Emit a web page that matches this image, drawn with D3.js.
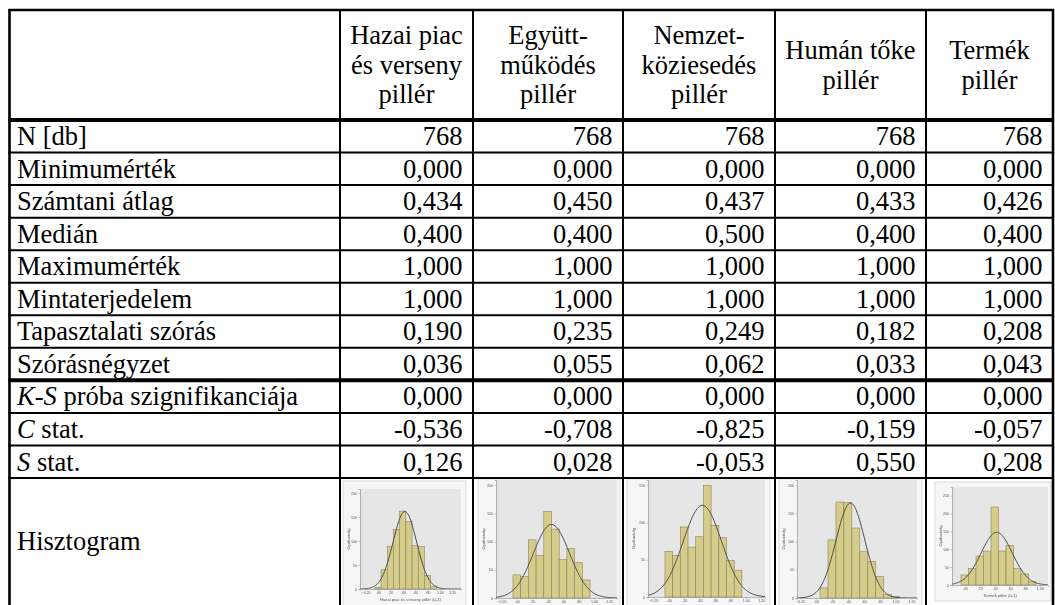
<!DOCTYPE html>
<html>
<head>
<meta charset="utf-8">
<script src="https://cdn.jsdelivr.net/npm/d3@7"></script>
<style>
  html, body { margin: 0; padding: 0; background: #fff; }
  svg { display: block; }
  .tbl text { font-family: "Liberation Serif", "Times New Roman", "DejaVu Serif", serif; }
  .hist text { font-family: "Liberation Sans", Arial, sans-serif; }
</style>
</head>
<body>
<svg id="chart" width="1055" height="605"></svg>
<script>
// ---------- data ----------
const headerLines = [
  ["Hazai piac", "és verseny", "pillér"],
  ["Együtt-", "működés", "pillér"],
  ["Nemzet-", "köziesedés", "pillér"],
  ["Humán tőke", "pillér"],
  ["Termék", "pillér"]
];
const rowLabels = ["N [db]", "Minimumérték", "Számtani átlag", "Medián", "Maximumérték",
  "Mintaterjedelem", "Tapasztalati szórás", "Szórásnégyzet", "próba szignifikanciája",
  "stat.", "stat.", "Hisztogram"];
const rowItalic = ["", "", "", "", "", "", "", "", "K-S", "C", "S", ""];

const statN      = [768, 768, 768, 768, 768];
const statMin    = [0.000, 0.000, 0.000, 0.000, 0.000];
const statMean   = [0.434, 0.450, 0.437, 0.433, 0.426];
const statMedian = [0.400, 0.400, 0.500, 0.400, 0.400];
const statMax    = [1.000, 1.000, 1.000, 1.000, 1.000];
const statRange  = [1.000, 1.000, 1.000, 1.000, 1.000];
const statSD     = [0.190, 0.235, 0.249, 0.182, 0.208];
const statVar    = [0.036, 0.055, 0.062, 0.033, 0.043];
const statKS     = [0.000, 0.000, 0.000, 0.000, 0.000];
const statC      = [-0.536, -0.708, -0.825, -0.159, -0.057];
const statS      = [0.126, 0.028, -0.053, 0.550, 0.208];

// histogram bin counts, bins centred on 0, 0.1, 0.2, ...
const histHazai   = [3, 40, 88, 124, 162, 140, 90, 88, 28, 5];
const histEgyutt  = [41, 38, 103, 75, 153, 122, 68, 88, 63, 32];
const histNemzet  = [61, 56, 94, 67, 81, 150, 96, 80, 49, 36];
const histHuman   = [0, 18, 103, 170, 169, 124, 82, 65, 38, 6, 3];
const histTermek  = [28, 46, 81, 95, 218, 95, 111, 46, 31, 9];
const histBinWidth = 0.1;
const histXTitles = ["Hazai piac és verseny pillér (0-1)", "", "", "", "Termék pillér (0-1)"];

// ---------- layout ----------
const svg = d3.select("#chart");
const colEdges = [9.5, 340, 473, 623, 775, 926, 1053];
const headerTop = 10, headerBottom = 120, histRowTop = 478, tableBottom = 640;
const fontSize = 26.5;

const huLocale = d3.formatLocale({ decimal: ",", thousands: " ", grouping: [3], currency: ["", ""], minus: "-" });
const fmt3 = huLocale.format(".3f");
const fmtInt = huLocale.format("d");

const statRows = [
  { vals: statN, f: fmtInt }, { vals: statMin, f: fmt3 }, { vals: statMean, f: fmt3 },
  { vals: statMedian, f: fmt3 }, { vals: statMax, f: fmt3 }, { vals: statRange, f: fmt3 },
  { vals: statSD, f: fmt3 }, { vals: statVar, f: fmt3 }, { vals: statKS, f: fmt3 },
  { vals: statC, f: fmt3 }, { vals: statS, f: fmt3 }
];

const rowY = d3.scaleBand().domain(d3.range(statRows.length)).range([headerBottom, histRowTop]);
const colX = i => [colEdges[i + 1], colEdges[i + 2]];

const defs = svg.append("defs");
defs.append("filter").attr("id", "soft").attr("x", "-5%").attr("y", "-5%").attr("width", "110%").attr("height", "110%")
  .append("feGaussianBlur").attr("stdDeviation", 0.45);

// ---------- histograms ----------
const histLayouts = [
  { frame: [343, 481, 123, 130], plot: { l: 360, r: 461, t: 489, b: 589 }, xDomain: [-0.29, 1.34], yMax: 208, yStep: 50, yTitleX: 350 },
  { frame: [478, 479, 142, 135], plot: { l: 496, r: 617, t: 480, b: 598 }, xDomain: [-0.27, 1.30], yMax: 209, yStep: 50, yTitleX: 485 },
  { frame: [627, 479, 143, 135], plot: { l: 648, r: 765, t: 480, b: 597 }, xDomain: [-0.27, 1.25], yMax: 157, yStep: 50, yTitleX: 635 },
  { frame: [779, 479, 143, 135], plot: { l: 797, r: 917, t: 480, b: 598 }, xDomain: [-0.24, 1.27], yMax: 209, yStep: 50, yTitleX: 785 },
  { frame: [935, 482, 116, 119], plot: { l: 952, r: 1048, t: 487, b: 585 }, xDomain: [-0.17, 1.11], yMax: 274, yStep: 50, yTitleX: 942 }
];
const histCounts = [histHazai, histEgyutt, histNemzet, histHuman, histTermek];
const tickFmt = d => d3.format(".2f")(d).replace(/^(-?)0\./, "$1.");

histLayouts.forEach((L, k) => {
  const g = svg.append("g").attr("class", "hist").attr("filter", "url(#soft)");
  const p = L.plot;
  const x = d3.scaleLinear().domain(L.xDomain).range([p.l, p.r]);
  const y = d3.scaleLinear().domain([0, L.yMax]).range([p.b, p.t]);
  const clipId = "clip" + k;
  defs.append("clipPath").attr("id", clipId).append("rect")
    .attr("x", p.l).attr("y", p.t).attr("width", p.r - p.l).attr("height", p.b - p.t);

  g.append("rect").attr("x", L.frame[0]).attr("y", L.frame[1]).attr("width", L.frame[2]).attr("height", L.frame[3])
    .attr("fill", "#f6f6f6").attr("stroke", "#d4d4d4").attr("stroke-width", 0.8);
  g.append("rect").attr("x", p.l).attr("y", p.t).attr("width", p.r - p.l).attr("height", p.b - p.t)
    .attr("fill", "#e6e6e6");

  const counts = histCounts[k];
  g.append("g").selectAll("rect").data(counts).join("rect")
    .attr("x", (d, i) => x(i * histBinWidth - histBinWidth / 2))
    .attr("width", (d, i) => x(i * histBinWidth + histBinWidth / 2) - x(i * histBinWidth - histBinWidth / 2))
    .attr("y", d => y(d))
    .attr("height", d => y(0) - y(d))
    .attr("fill", "#d4cc88").attr("stroke", "#8a8562").attr("stroke-width", 0.6);

  // fitted normal curve from the column's mean and standard deviation
  const m = statMean[k], s = statSD[k], n = statN[k];
  const dens = v => n * histBinWidth / (s * Math.sqrt(2 * Math.PI)) * Math.exp(-0.5 * ((v - m) / s) ** 2);
  const xs = d3.range(120).map(i => L.xDomain[0] + (L.xDomain[1] - L.xDomain[0]) * i / 119);
  g.append("path").datum(xs).attr("clip-path", `url(#${clipId})`)
    .attr("d", d3.line().x(v => x(v)).y(v => y(dens(v))).curve(d3.curveBasis))
    .attr("fill", "none").attr("stroke", "#4d4d4d").attr("stroke-width", 1);

  const ya = d3.axisLeft(y).tickValues(d3.range(0, L.yMax, L.yStep)).tickSize(1.5).tickPadding(1.5).tickFormat(d3.format("d"));
  const xa = d3.axisBottom(x).tickValues(d3.range(-0.2, 1.21, 0.2).filter(v => v >= L.xDomain[0] && v <= L.xDomain[1]))
    .tickSize(1.5).tickPadding(1).tickFormat(tickFmt);
  const ga = g.append("g").attr("transform", `translate(${p.l},0)`).call(ya);
  const gb = g.append("g").attr("transform", `translate(0,${p.b})`).call(xa);
  [ga, gb].forEach(a => {
    a.attr("font-family", null);
    a.select(".domain").attr("stroke", "#888").attr("stroke-width", 0.6);
    a.selectAll(".tick line").attr("stroke", "#888").attr("stroke-width", 0.5);
    a.selectAll("text").attr("font-size", 3.6).attr("fill", "#555");
  });

  g.append("text").attr("transform", `translate(${L.yTitleX},${(p.t + p.b) / 2}) rotate(-90)`)
    .attr("text-anchor", "middle").attr("font-size", 4.2).attr("fill", "#555").text("Gyakoriság");
  if (histXTitles[k]) {
    g.append("text").attr("x", (p.l + p.r) / 2).attr("y", p.b + 12)
      .attr("text-anchor", "middle").attr("font-size", 4.2).attr("fill", "#555").text(histXTitles[k]);
  }
});

// ---------- table text ----------
const T = svg.append("g").attr("class", "tbl").attr("font-size", fontSize).attr("fill", "#000");

// header
const lineH = 29.5;
headerLines.forEach((lines, i) => {
  const [a, b] = colX(i);
  const cy = (headerTop + headerBottom) / 2;
  lines.forEach((ln, j) => {
    T.append("text").attr("x", (a + b) / 2).attr("text-anchor", "middle")
      .attr("y", cy + (j - (lines.length - 1) / 2) * lineH + 8.8).text(ln);
  });
});

// row labels
const labelY = i => i < statRows.length ? rowY(i) + rowY.bandwidth() / 2 + 8.8 : 550;
rowLabels.forEach((lab, i) => {
  const t = T.append("text").attr("x", 17).attr("y", labelY(i));
  if (rowItalic[i]) {
    t.append("tspan").attr("font-style", "italic").text(rowItalic[i]);
    t.append("tspan").text(" " + lab);
  } else {
    t.text(lab);
  }
});

// values
statRows.forEach((row, i) => {
  row.vals.forEach((v, c) => {
    T.append("text").attr("x", colX(c)[1] - 10.5).attr("y", labelY(i))
      .attr("text-anchor", "end").text(row.f(v));
  });
});

// ---------- grid lines ----------
const G = svg.append("g").attr("stroke", "#000").attr("fill", "none");
const hLine = (yy, w) => G.append("line").attr("x1", colEdges[0] - 1).attr("x2", colEdges[6] + 1)
  .attr("y1", yy).attr("y2", yy).attr("stroke-width", w);
hLine(headerTop, 2.6);
hLine(headerBottom, 4);
d3.range(1, statRows.length).forEach(i => hLine(rowY(i), i === 8 ? 4 : 2));
hLine(histRowTop, 2);
colEdges.forEach((xx, i) => {
  G.append("line").attr("x1", xx).attr("x2", xx).attr("y1", headerTop - 1).attr("y2", tableBottom)
    .attr("stroke-width", (i === 0 || i === colEdges.length - 1) ? 2.6 : 2);
});
</script>
</body>
</html>
